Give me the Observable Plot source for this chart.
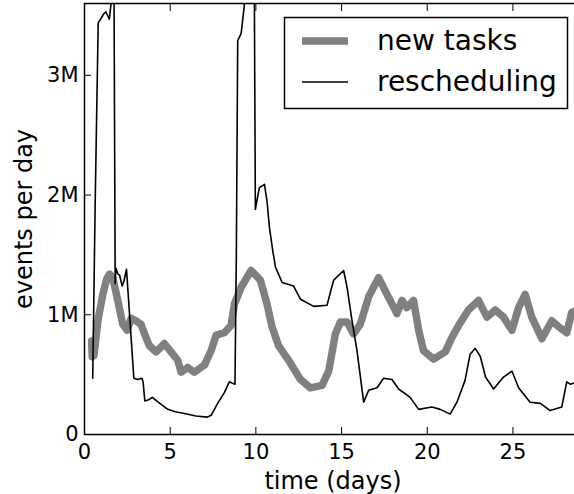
<!DOCTYPE html>
<html>
<head>
<meta charset="utf-8">
<script src="https://cdn.jsdelivr.net/npm/d3@7"></script>
<script src="https://cdn.jsdelivr.net/npm/@observablehq/plot@0.6"></script>
<style>
  html, body { margin: 0; padding: 0; background: #fff; }
  #chart svg { display: block; }
</style>
</head>
<body>
<div id="chart"></div>
<script>
// ---- data (days, millions of events per day) ----
const newTasksDays = [0.42,0.45,0.55,0.78,1.07,1.3,1.46,1.65,1.94,2.23,2.49,2.72,3.0,3.3,3.5,3.79,4.18,4.66,5.05,5.44,5.64,6.02,6.41,7.0,7.39,7.68,8.16,8.55,8.75,9.14,9.72,10.26,10.65,10.94,11.33,12.0,12.6,13.18,13.86,14.25,14.64,14.93,15.32,15.7,16.09,16.58,17.16,17.65,18.23,18.53,18.81,19.2,19.5,19.78,20.37,21.05,21.44,21.83,22.4,22.99,23.48,23.97,24.45,24.94,25.33,25.71,26.1,26.69,27.27,27.66,28.14,28.43,28.6];
const newTasksM = [0.78,0.65,0.66,0.95,1.17,1.30,1.34,1.31,1.12,0.92,0.87,0.97,0.95,0.92,0.84,0.74,0.69,0.76,0.69,0.62,0.52,0.56,0.52,0.58,0.70,0.83,0.85,0.91,1.09,1.23,1.37,1.29,1.09,0.90,0.74,0.60,0.46,0.39,0.41,0.53,0.84,0.94,0.94,0.84,0.92,1.15,1.31,1.17,1.01,1.12,1.06,1.12,0.87,0.70,0.63,0.69,0.81,0.91,1.04,1.12,0.98,1.04,0.98,0.87,1.06,1.17,0.98,0.80,0.95,0.90,0.85,1.02,1.03];

const reschedDays = [0.48,0.62,0.8,0.95,1.1,1.25,1.35,1.45,1.55,1.62,1.72,1.79,1.83,1.95,2.05,2.2,2.3,2.45,2.88,3.1,3.35,3.42,3.52,3.75,3.96,4.3,4.86,5.3,5.83,6.5,7.17,7.39,7.77,8.16,8.45,8.6,8.78,8.86,8.94,9.14,9.3,9.4,9.7,9.91,9.97,10.2,10.5,10.65,10.79,10.98,11.14,11.53,12.2,12.6,13.37,14.15,14.54,15.12,15.32,15.6,15.9,16.29,16.58,17.07,17.45,17.94,18.33,19.0,19.5,20.27,20.76,21.34,21.73,22.2,22.5,22.8,23.1,23.4,23.87,24.45,24.94,25.33,26.0,26.6,27.17,27.85,28.14,28.34,28.6];
const reschedM = [0.47,1.9,3.44,3.47,3.51,3.53,3.50,3.47,3.60,3.90,3.80,1.26,1.39,1.34,1.33,1.24,1.28,1.38,0.47,0.46,0.47,0.44,0.28,0.29,0.31,0.27,0.21,0.19,0.175,0.155,0.145,0.16,0.26,0.35,0.44,0.43,0.42,1.5,3.29,3.35,3.55,3.70,3.90,3.70,1.88,2.06,2.09,1.95,1.73,1.54,1.40,1.27,1.24,1.13,1.07,1.08,1.29,1.37,1.23,0.96,0.70,0.27,0.37,0.39,0.47,0.46,0.38,0.31,0.21,0.23,0.21,0.17,0.27,0.45,0.67,0.72,0.65,0.48,0.38,0.48,0.53,0.39,0.27,0.26,0.20,0.23,0.44,0.42,0.43];

const xTicks = [0, 5, 10, 15, 20, 25];
const yTicks = [0, 1e6, 2e6, 3e6];
const yTickLabels = ["0", "1M", "2M", "3M"];
const seriesNames = ["new tasks", "rescheduling"];
const xLabel = "time (days)";
const yLabel = "events per day";

// ---- tables built from the arrays ----
const newTasks = newTasksDays.map((d, i) => ({day: d, events: newTasksM[i] * 1e6}));
const resched = reschedDays.map((d, i) => ({day: d, events: reschedM[i] * 1e6}));

const FONT = "DejaVu Sans";
const GRAY = "#808080";

function legendMark(index, scales, values, dims) {
  const g = d3.create("svg:g");
  const x0 = 284, y0 = 17, w = 283, h = 91;
  g.append("rect").attr("x", x0 + 0.5).attr("y", y0 + 0.5).attr("width", w).attr("height", h)
    .attr("fill", "white").attr("stroke", "black").attr("stroke-width", 1.5);
  const rows = [
    {name: seriesNames[0], stroke: GRAY, sw: 7.5, y: 41},
    {name: seriesNames[1], stroke: "black", sw: 1.6, y: 82}
  ];
  for (const r of rows) {
    g.append("line").attr("x1", 302).attr("x2", 348).attr("y1", r.y).attr("y2", r.y)
      .attr("stroke", r.stroke).attr("stroke-width", r.sw);
    g.append("text").attr("x", 377).attr("y", r.y).attr("dy", "0.32em")
      .attr("text-anchor", "start")
      .attr("font-family", FONT).attr("font-size", 28).attr("fill", "black").text(r.name);
  }
  return g.node();
}

const chart = Plot.plot({
  width: 574,
  height: 494,
  marginLeft: 84,
  marginRight: -7,
  marginTop: 3,
  marginBottom: 60,
  style: {fontFamily: FONT, background: "white", color: "black"},
  x: {domain: [0, 29]},
  y: {domain: [0, 3.6e6]},
  marks: [
    Plot.line(newTasks, {x: "day", y: "events", stroke: GRAY, strokeWidth: 7.5, strokeLinejoin: "round", clip: true}),
    Plot.line(resched, {x: "day", y: "events", stroke: "black", strokeWidth: 1.6, strokeLinejoin: "round", clip: true}),
    // inward ticks on all sides
    Plot.axisX(xTicks, {anchor: "bottom", tickSize: -7, fill: "none", label: null, strokeWidth: 1}),
    Plot.axisX(xTicks, {anchor: "top", tickSize: -7, fill: "none", label: null, strokeWidth: 1}),
    Plot.axisY(yTicks, {anchor: "left", tickSize: -7, fill: "none", label: null, strokeWidth: 1}),
    Plot.axisY(yTicks, {anchor: "right", tickSize: -7, fill: "none", label: null, strokeWidth: 1}),
    // tick labels
    Plot.axisX(xTicks, {anchor: "bottom", tickSize: 0, tickPadding: 10, fontSize: 21, label: null}),
    Plot.axisY(yTicks, {anchor: "left", tickSize: 0, tickPadding: 6, fontSize: 21, label: null,
      tickFormat: (d) => yTickLabels[yTicks.indexOf(d)]}),
    // axis titles
    Plot.text([xLabel], {text: (d) => d, frameAnchor: "bottom", textAnchor: "middle", lineAnchor: "middle", dy: 47, fontSize: 24, fill: "black"}),
    Plot.text([yLabel], {text: (d) => d, frameAnchor: "left", textAnchor: "middle", lineAnchor: "middle", rotate: -90, dx: -60, fontSize: 24, fill: "black"}),
    Plot.frame({stroke: "black", strokeWidth: 1.5}),
    legendMark
  ]
});
document.getElementById("chart").appendChild(chart);
</script>
</body>
</html>
